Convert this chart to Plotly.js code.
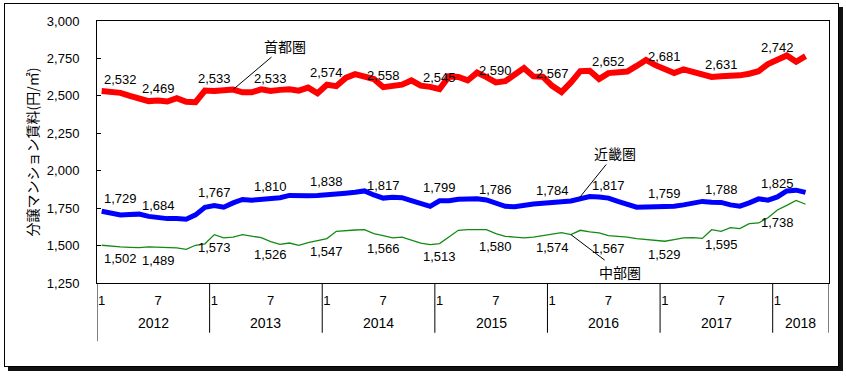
<!DOCTYPE html>
<html>
<head>
<meta charset="utf-8">
<script src="https://cdn.plot.ly/plotly-3.0.1.min.js"></script>
<style>
html,body{margin:0;padding:0;background:#fff;}
#frame{position:absolute;left:4px;top:3px;width:833px;height:362px;border:1px solid #000;box-shadow:4px 4px 0 #111;background:#fff;}
#chart{position:absolute;left:0;top:0;width:846px;height:380px;}
</style>
</head>
<body>
<div id="frame"></div>
<div id="chart"></div>
<script>
// Monthly index 0 = Jan 2012 ... 75 = Apr 2018 (axis runs to Jun 2018)
const years = ["2012","2013","2014","2015","2016","2017","2018"];
const monthTickText = ["1","7"];
const seriesNames = ["首都圏","近畿圏","中部圏"];

const shutoken = [
2532,2530,2520,2500,2478,2465,2469,2462,2484,2460,2458,2535,
2533,2533,2542,2524,2524,2544,2533,2540,2544,2535,2555,2517,
2574,2565,2620,2645,2625,2612,2558,2565,2575,2603,2568,2560,
2545,2630,2626,2603,2655,2625,2590,2598,2645,2685,2630,2628,
2567,2525,2590,2665,2668,2612,2652,2660,2662,2700,2740,2705,
2681,2652,2677,2658,2640,2626,2631,2633,2637,2648,2665,2712,
2742,2770,2728,2765];

const kinki = [
1729,1716,1705,1708,1710,1695,1684,1680,1680,1676,1705,1755,
1767,1756,1785,1808,1803,1806,1810,1820,1835,1830,1833,1835,
1838,1842,1850,1856,1865,1838,1817,1822,1820,1800,1785,1762,
1799,1800,1810,1812,1812,1805,1786,1762,1760,1772,1778,1782,
1784,1792,1798,1815,1828,1825,1817,1795,1776,1756,1758,1758,
1759,1763,1772,1785,1795,1790,1788,1772,1763,1785,1812,1803,
1825,1865,1870,1855];

const chubu = [
1502,1495,1491,1488,1486,1491,1489,1491,1484,1475,1502,1512,
1573,1551,1557,1573,1562,1553,1526,1508,1517,1502,1520,1531,
1547,1595,1602,1604,1606,1580,1566,1551,1557,1537,1517,1506,
1513,1557,1602,1606,1606,1606,1580,1562,1557,1551,1557,1568,
1574,1586,1573,1602,1591,1585,1567,1562,1557,1546,1542,1535,
1529,1540,1551,1553,1548,1606,1595,1620,1613,1646,1651,1686,
1738,1769,1802,1776];

const nCats = 78; // Jan 2012 .. Jun 2018
const xIdx = shutoken.map((_, i) => i);

const numFont = "Liberation Sans, Arial, sans-serif";
const jpFont = "Noto Sans CJK JP, sans-serif";

const traces = [
  {x: xIdx, y: shutoken, mode: "lines", line: {color: "#FF0000", width: 6}, name: seriesNames[0]},
  {x: xIdx, y: kinki, mode: "lines", line: {color: "#0000FF", width: 5}, name: seriesNames[1]},
  {x: xIdx, y: chubu, mode: "lines", line: {color: "#138A13", width: 1.3}, name: seriesNames[2]}
];

const fmt = v => v.toLocaleString("en-US");
const annotations = [];
function addLabels(arr, yshift) {
  for (let i = 0; i < arr.length; i += 6) {
    annotations.push({
      x: i, y: arr[i], xref: "x", yref: "y", text: fmt(arr[i]), showarrow: false,
      xanchor: i === 0 ? "left" : "center", yanchor: "middle", yshift: yshift,
      font: {family: numFont, size: 13, color: "#000"}
    });
  }
}
addLabels(shutoken, 12);
addLabels(kinki, 13);
addLabels(chubu, -13);

// Series name call-outs
const calloutFont = {family: jpFont, size: 14, color: "#000"};
annotations.push({x: 14, y: shutoken[14], text: seriesNames[0], showarrow: true, arrowhead: 0, arrowwidth: 1, arrowcolor: "#000", ax: 52, ay: -44, font: calloutFont, standoff: 0});
annotations.push({x: 50.8, y: 1811, text: seriesNames[1], showarrow: true, arrowhead: 0, arrowwidth: 1, arrowcolor: "#000", ax: 37, ay: -46, font: calloutFont, standoff: 0});
annotations.push({x: 50, y: chubu[50], text: seriesNames[2], showarrow: true, arrowhead: 0, arrowwidth: 1, arrowcolor: "#000", ax: 49, ay: 37, font: calloutFont, standoff: 0});

// Year labels under the axis
years.forEach((yr, k) => {
  const start = k * 12 - 0.5;
  const end = Math.min(start + 12, nCats - 0.5);
  annotations.push({x: (start + end) / 2, y: 0, xref: "x", yref: "paper", yanchor: "middle", yshift: -40,
    text: yr, showarrow: false, font: {family: numFont, size: 14, color: "#000"}});
});

// Year separators
const shapes = [];
for (let k = 0; k <= years.length; k++) {
  const xv = Math.min(k * 12 - 0.5, nCats - 0.5);
  shapes.push({type: "line", xref: "x", yref: "paper", x0: xv, x1: xv, y0: 0, y1: k === 0 ? -0.222 : -0.19,
    line: {color: "#000", width: 1}});
}

const tickvals = [], ticktext = [];
for (let i = 0; i < nCats; i += 6) { tickvals.push(i); ticktext.push(monthTickText[(i / 6) % 2]); }

const layout = {
  width: 846, height: 380,
  margin: {l: 97, r: 17, t: 21, b: 97},
  paper_bgcolor: "rgba(0,0,0,0)", plot_bgcolor: "rgba(0,0,0,0)",
  showlegend: false,
  xaxis: {
    type: "linear", range: [-0.5, nCats - 0.5], tickvals: tickvals, ticktext: ticktext,
    showgrid: false, zeroline: false, showline: true, mirror: true, linecolor: "#000", linewidth: 1,
    ticks: "", ticklabelstandoff: 5, tickfont: {family: numFont, size: 13, color: "#000"}
  },
  yaxis: {
    range: [1250, 3000], dtick: 250, tick0: 1250, tickformat: ",d",
    showgrid: false, zeroline: false, showline: true, mirror: true, linecolor: "#000", linewidth: 1,
    ticks: "inside", ticklen: 4, tickcolor: "#000", ticklabelstandoff: 14,
    tickfont: {family: numFont, size: 13, color: "#000"},
    title: {text: "分譲マンション賃料(円/㎡)", font: {family: jpFont, size: 14, color: "#000"}, standoff: 4}
  },
  annotations: annotations,
  shapes: shapes
};

Plotly.newPlot("chart", traces, layout, {displayModeBar: false, staticPlot: true});
</script>
</body>
</html>
